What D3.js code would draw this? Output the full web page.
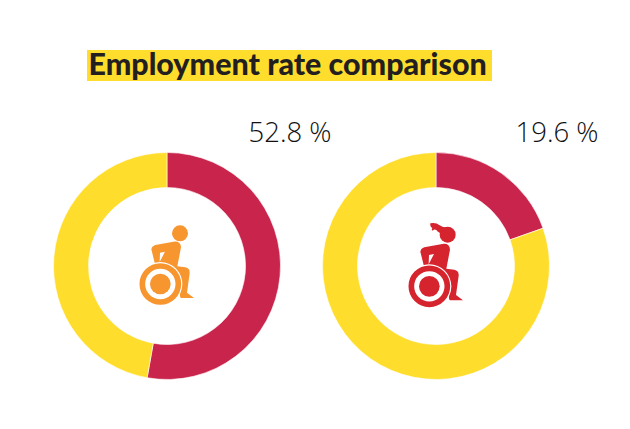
<!DOCTYPE html>
<html><head><meta charset="utf-8">
<script src="https://cdn.jsdelivr.net/npm/d3@7"></script>
<style>html,body{margin:0;padding:0;background:#fff}svg{display:block}</style>
</head><body><div id="c"></div>
<script>
const titleText = "Employment rate comparison";
const groups = ["Men with disabilities", "Women with disabilities"];
const employed = [52.8, 19.6];
const labels = ["52.8 %", "19.6 %"];
const sliceColors = ["#c9254c", "#ffdd2c"];
const iconColors = ["#f7952f", "#d6242e"];

const W = 630, H = 429;
const svg = d3.select("#c").append("svg").attr("width", W).attr("height", H);
svg.append("rect").attr("x", 87).attr("y", 50).attr("width", 405).attr("height", 31).attr("fill", "#ffdd2c");
svg.append("text").attr("x", 88.5).attr("y", 75).text(titleText)
  .attr("font-family", "Lato").attr("font-weight", 900).attr("font-size", 30.4).attr("fill", "#231f20");

const cx = d3.scalePoint().domain(groups).range([167, 436]);
const pie = d3.pie().sort(null).value(d => d);
const arc = d3.arc().innerRadius(78.5).outerRadius(113.5);
const body = "M94 118 Q96 108 106 105 L160 95 Q182 92 183 112 L172 169 L196 172 Q210 175 209 190 L201 248 L222 264 L184 264 Q180 264 180 258 L176 205 Q172 186 155 184 L122 182 Q110 182 107 170 Z M120 128 L135 125 L119 156 Z";
const hair = "M124 40 Q140 36 152 46 Q162 54 175 52 L170 72 Q150 72 142 60 Q136 56 131 62 Q126 60 130 54 Q122 50 124 40 Z";

groups.forEach((g, i) => {
  const x = cx(g), c = svg.append("g").attr("transform", `translate(${x},266)`);
  c.selectAll("path").data(pie([employed[i], 100 - employed[i]])).join("path")
    .attr("d", arc).attr("fill", (d, j) => sliceColors[j]).attr("stroke", "#fff").attr("stroke-width", 0.6);
  const ic = svg.append("g").attr("transform", `translate(${x - 47},210) scale(${1/3})`).attr("fill", iconColors[i]);
  ic.append("path").attr("d", body).attr("fill-rule", "evenodd").attr("transform", i ? "translate(0,7)" : null);
  ic.append("circle").attr("cx", i ? 176 : 180).attr("cy", i ? 74 : 70).attr("r", 24);
  if (i) ic.append("path").attr("d", hair);
  const wx = 121, wy = i ? 229 : 222;
  ic.append("circle").attr("cx", wx).attr("cy", wy).attr("r", 66).attr("fill", "#fff");
  ic.append("circle").attr("cx", wx).attr("cy", wy).attr("r", 54).attr("fill", "none").attr("stroke", iconColors[i]).attr("stroke-width", 17);
  ic.append("circle").attr("cx", wx).attr("cy", wy).attr("r", 31);
  svg.append("text").attr("x", i ? 557 : 290).attr("y", 142).attr("text-anchor", "middle").text(labels[i])
    .attr("font-family", "'Open Sans'").attr("font-weight", 300).attr("font-size", 27.5).attr("fill", "#111");
});
</script></body></html>
